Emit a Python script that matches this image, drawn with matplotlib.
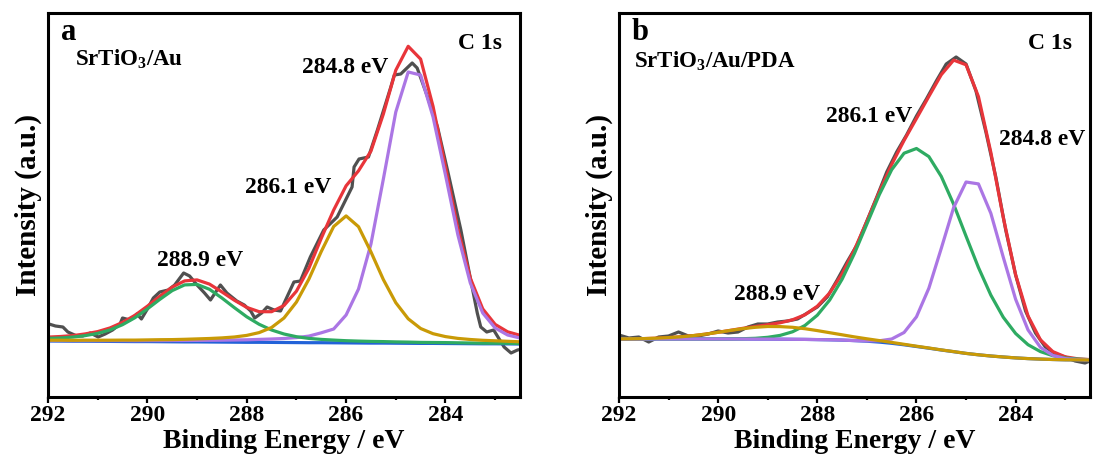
import matplotlib
matplotlib.use("Agg")
import matplotlib.pyplot as plt
from matplotlib.ticker import MultipleLocator

plt.rcParams['font.family'] = ['Liberation Serif', 'DejaVu Serif']
plt.rcParams['font.weight'] = 'bold'
plt.rcParams['axes.labelweight'] = 'bold'
plt.rcParams['mathtext.fontset'] = 'custom'
plt.rcParams['mathtext.rm'] = 'Liberation Serif:bold'
plt.rcParams['mathtext.default'] = 'rm'

# binding energy grid of the fitted curves (eV)
energy = [292.0, 291.75, 291.5, 291.25, 291.0, 290.75, 290.5, 290.25, 290.0,
          289.75, 289.5, 289.25, 289.0, 288.75, 288.5, 288.25, 288.0, 287.75,
          287.5, 287.25, 287.0, 286.75, 286.5, 286.25, 286.0, 285.75, 285.5,
          285.25, 285.0, 284.75, 284.5, 284.25, 284.0, 283.75, 283.5, 283.25,
          283.0, 282.75, 282.5]

# ---- panel a : SrTiO3/Au ----
a_raw_E = [291.98, 291.85, 291.7, 291.6, 291.42, 291.3, 291.15, 290.99, 290.85,
           290.7, 290.55, 290.5, 290.35, 290.21, 290.12, 290.0, 289.88, 289.75,
           289.58, 289.45, 289.27, 289.15, 289.0, 288.85, 288.73, 288.53, 288.4,
           288.2, 288.05, 287.92, 287.84, 287.7, 287.59, 287.45, 287.32, 287.19,
           287.05, 286.92, 286.72, 286.45, 286.18, 285.98, 285.88, 285.84, 285.74,
           285.55, 285.37, 285.1, 285.03, 284.9, 284.67, 284.57, 284.36, 284.16,
           283.96, 283.69, 283.56, 283.36, 283.29, 283.17, 283.03, 282.82, 282.68,
           282.55, 282.45]
a_raw_I = [73, 71, 70, 65, 61, 61, 64, 60, 63, 67, 73, 79, 77, 83, 78, 88, 99, 105,
           107, 112, 124, 121, 112, 104, 97, 112, 104, 96, 92, 86, 79, 84, 90, 87,
           86, 100, 115, 116, 140, 167, 180, 200, 210, 230, 238, 240, 267, 310, 322,
           323, 334, 329, 300, 270, 227, 167, 134, 84, 70, 65, 67, 50, 44, 47, 48]
a_fit = [59.9, 60.5, 61.4, 63.1, 65.4, 69.1, 74.6, 81.7, 90.8, 100.7, 109.9, 116.1,
         117.1, 112.9, 105.1, 96.8, 89.6, 85.3, 85.3, 91.5, 105.8, 128.7, 158.7,
         187.0, 211.2, 226.2, 245.9, 283.0, 326.8, 350.7, 337.9, 290.6, 229.8,
         168.0, 118.9, 88.1, 72.6, 65.2, 61.7]
a_bg = [56.0, 55.9, 55.8, 55.8, 55.7, 55.6, 55.5, 55.4, 55.4, 55.3, 55.2, 55.1,
        55.1, 55.0, 54.9, 54.8, 54.7, 54.7, 54.6, 54.5, 54.4, 54.3, 54.3, 54.2,
        54.1, 54.0, 53.9, 53.9, 53.8, 53.7, 53.6, 53.6, 53.5, 53.4, 53.3, 53.2,
        53.2, 53.1, 53.0]
a_p2889 = [58.6, 59.0, 59.9, 61.4, 63.6, 67.1, 72.3, 79.3, 88.1, 97.6, 106.4, 112.1,
           112.6, 107.7, 99.0, 89.4, 80.2, 72.7, 67.0, 63.0, 60.3, 58.6, 57.6, 56.9,
           56.3, 55.9, 55.6, 55.4, 55.1, 54.9, 54.6, 54.5, 54.4, 54.2, 54.0, 53.8,
           53.8, 53.7, 53.5]
a_p2861 = [56.8, 56.8, 56.7, 56.8, 56.8, 56.8, 56.9, 56.9, 57.1, 57.3, 57.4, 57.7,
           58.1, 58.5, 59.1, 60.0, 61.6, 64.4, 69.5, 79.0, 94.9, 117.8, 145.5, 170.5,
           181.1, 170.3, 145.1, 117.4, 94.3, 78.2, 68.5, 63.3, 60.4, 58.6, 57.5, 56.7,
           56.2, 55.7, 55.2]
a_p2848 = [56.5, 56.5, 56.4, 56.5, 56.4, 56.4, 56.4, 56.3, 56.4, 56.4, 56.5, 56.5,
           56.6, 56.7, 56.8, 57.0, 57.2, 57.6, 58.0, 58.5, 59.4, 60.9, 64.2, 68.0,
           82.0, 108.0, 153.0, 218.0, 285.0, 325.0, 322.0, 280.0, 222.0, 162.0, 114.0,
           84.0, 69.0, 62.0, 59.0]

# ---- panel b : SrTiO3/Au/PDA ----
b_raw_E = [292.0, 291.8, 291.6, 291.4, 291.2, 291.0, 290.8, 290.6, 290.4, 290.2,
           290.0, 289.8, 289.6, 289.4, 289.2, 289.0, 288.8, 288.6, 288.4, 288.2,
           288.0, 287.8, 287.6, 287.4, 287.2, 287.0, 286.8, 286.6, 286.4, 286.2,
           286.0, 285.8, 285.6, 285.4, 285.2, 285.0, 284.8, 284.6, 284.4, 284.2,
           284.0, 283.8, 283.6, 283.4, 283.2, 283.0, 282.8, 282.6, 282.5]
b_raw_I = [62, 59, 60, 55, 60, 61, 65, 61, 61, 63, 66, 64, 65, 70, 73, 73, 75, 76,
           78, 84, 90, 100, 117, 135, 152, 176, 200, 225, 245, 262, 281, 298, 316,
           333, 340, 333, 306, 265, 220, 167, 122, 86, 64, 50, 43, 40, 36, 34, 36]
b_fit = [58.1, 58.2, 58.4, 58.8, 59.4, 60.2, 61.4, 62.9, 64.7, 66.7, 68.7, 70.5,
         72.3, 74.2, 77.2, 82.2, 90.8, 104.1, 123.1, 147.4, 175.7, 205.1, 232.5,
         256.6, 278.5, 300.6, 322.3, 336.9, 332.2, 300.4, 244.6, 179.7, 122.1, 81.0,
         57.2, 45.4, 40.2, 38.2, 37.4]
b_bg = [58.0, 58.0, 58.0, 58.0, 58.0, 58.0, 58.0, 58.0, 58.0, 58.0, 58.0, 57.9,
        57.9, 57.8, 57.7, 57.6, 57.4, 57.2, 56.9, 56.4, 55.8, 54.9, 53.7, 52.2,
        50.5, 48.8, 47.0, 45.3, 43.6, 42.2, 41.0, 40.0, 39.1, 38.4, 37.9, 37.5,
        37.2, 37.1, 37.0]
b_p2889 = [58.1, 58.2, 58.4, 58.8, 59.4, 60.2, 61.4, 62.9, 64.7, 66.6, 68.4, 69.7,
           70.5, 70.4, 69.7, 68.3, 66.4, 64.3, 62.2, 60.1, 58.2, 56.4, 54.6, 52.7,
           50.8, 49.0, 47.1, 45.4, 43.6, 42.2, 41.0, 40.0, 39.1, 38.4, 37.9, 37.5,
           37.2, 37.1, 37.0]
b_p2861 = [58.0, 58.0, 58.0, 58.0, 58.0, 58.0, 58.0, 58.0, 58.0, 58.1, 58.3, 58.7,
           59.7, 61.6, 65.2, 71.5, 81.8, 97.0, 117.8, 143.7, 173.0, 202.3, 227.3,
           243.8, 248.5, 240.4, 220.6, 192.7, 160.8, 129.5, 101.9, 79.8, 63.5, 52.3,
           45.4, 41.3, 39.0, 37.9, 37.3]
b_p2848 = [58.0, 58.0, 58.0, 58.0, 58.0, 58.0, 58.0, 58.0, 58.0, 58.0, 58.0, 57.9,
           57.9, 57.8, 57.7, 57.6, 57.4, 57.2, 56.9, 56.4, 56.1, 56.2, 58.0, 64.5,
           80.2, 108.8, 148.6, 189.5, 215.0, 213.1, 183.7, 139.9, 97.7, 67.1, 49.7,
           41.6, 38.4, 37.4, 37.1]

grey = '#505050'
red = '#e8353a'
blue = '#2262d8'
green = '#2eab62'
gold = '#c99a06'
purple = '#ab76e4'
lw = 2.3

fig = plt.figure(figsize=(10.93, 4.61), dpi=100)
ax1 = fig.add_axes([48/1093, 64/461, 472/1093, 384/461])
ax2 = fig.add_axes([619/1093, 64/461, 471/1093, 384/461])

# panel a
ax1.plot(a_raw_E, a_raw_I, color=grey, lw=lw)
ax1.plot(energy, a_fit, color=red, lw=lw)
ax1.plot(energy, a_bg, color=blue, lw=lw)
ax1.plot(energy, a_p2848, color=purple, lw=lw)
ax1.plot(energy, a_p2889, color=green, lw=lw)
ax1.plot(energy, a_p2861, color=gold, lw=lw)

# panel b
ax2.plot(b_raw_E, b_raw_I, color=grey, lw=lw)
ax2.plot(energy, b_fit, color=red, lw=lw)
ax2.plot(energy, b_bg, color=blue, lw=lw)
ax2.plot(energy, b_p2861, color=green, lw=lw)
ax2.plot(energy, b_p2848, color=purple, lw=lw)
ax2.plot(energy, b_p2889, color=gold, lw=lw)

for ax in (ax1, ax2):
    ax.set_xlim(292, 282.5)
    ax.set_ylim(0, 384)
    ax.set_yticks([])
    ax.xaxis.set_major_locator(MultipleLocator(2))
    ax.xaxis.set_minor_locator(MultipleLocator(1))
    ax.tick_params(axis='x', which='major', direction='out', length=4, width=1.6,
                   labelsize=17, pad=2)
    ax.tick_params(axis='x', which='minor', direction='out', length=2.5, width=1.6)
    for s in ax.spines.values():
        s.set_linewidth(2.2)
    ax.set_xlabel('Binding Energy / eV', fontsize=20, labelpad=2)
    ax.set_ylabel('Intensity (a.u.)', fontsize=21, labelpad=4)
    ax.text(0.962, 0.905, 'C 1s', transform=ax.transAxes, fontsize=17,
            ha='right', va='baseline')

ax1.text(0.028, 0.93, 'a', transform=ax1.transAxes, fontsize=22, va='baseline')
ax1.text(0.057, 0.862, 'SrTiO$_3$/Au', transform=ax1.transAxes, fontsize=16.5,
         va='baseline')
ax1.text(0.538, 0.844, '284.8 eV', transform=ax1.transAxes, fontsize=17, va='baseline')
ax1.text(0.417, 0.531, '286.1 eV', transform=ax1.transAxes, fontsize=17, va='baseline')
ax1.text(0.231, 0.34, '288.9 eV', transform=ax1.transAxes, fontsize=17, va='baseline')

ax2.text(0.026, 0.93, 'b', transform=ax2.transAxes, fontsize=22, va='baseline')
ax2.text(0.032, 0.858, 'SrTiO$_3$/Au/PDA', transform=ax2.transAxes, fontsize=16.5,
         va='baseline')
ax2.text(0.439, 0.717, '286.1 eV', transform=ax2.transAxes, fontsize=17, va='baseline')
ax2.text(0.807, 0.656, '284.8 eV', transform=ax2.transAxes, fontsize=17, va='baseline')
ax2.text(0.244, 0.253, '288.9 eV', transform=ax2.transAxes, fontsize=17, va='baseline')

fig.savefig('out.png', dpi=100)
